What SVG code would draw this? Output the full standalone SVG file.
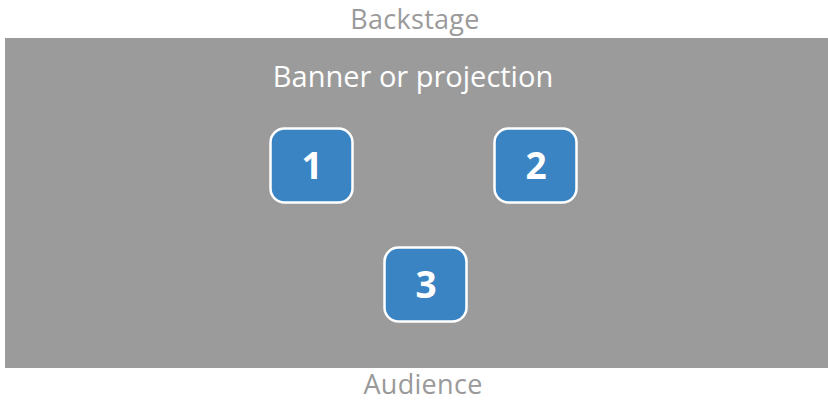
<svg xmlns="http://www.w3.org/2000/svg" width="828" height="402" viewBox="0 0 828 402">
<style>
.lbl{font-family:"Open Sans","Noto Sans",sans-serif;fill:#9a9a9a;font-size:27px;text-anchor:middle}
.ban{font-family:"Open Sans","Noto Sans",sans-serif;fill:#ffffff;font-size:29px;text-anchor:middle}
.box{fill:#3b84c4;stroke:#ffffff;stroke-width:2.5}
.num{font-family:"Open Sans","Noto Sans",sans-serif;fill:#ffffff;font-size:37px;font-weight:bold;text-anchor:middle}
</style>
<rect x="0" y="0" width="828" height="402" fill="#ffffff"/>
<text class="lbl" x="415" y="29" letter-spacing="0.3">Backstage</text>
<rect x="5" y="38" width="823" height="330" fill="#9b9b9b"/>
<text class="ban" x="413" y="87">Banner or projection</text>
<g id="node1"><rect class="box" x="270.5" y="128.5" width="82" height="74" rx="14"/><text class="num" x="312" y="179">1</text></g>
<g id="node2"><rect class="box" x="494.5" y="128.5" width="82" height="74" rx="14"/><text class="num" x="536" y="179">2</text></g>
<g id="node3"><rect class="box" x="384.5" y="247.5" width="82" height="74" rx="14"/><text class="num" x="426" y="298">3</text></g>
<g id="connectors"></g>
<text class="lbl" x="423" y="394" letter-spacing="0.3">Audience</text>
</svg>
